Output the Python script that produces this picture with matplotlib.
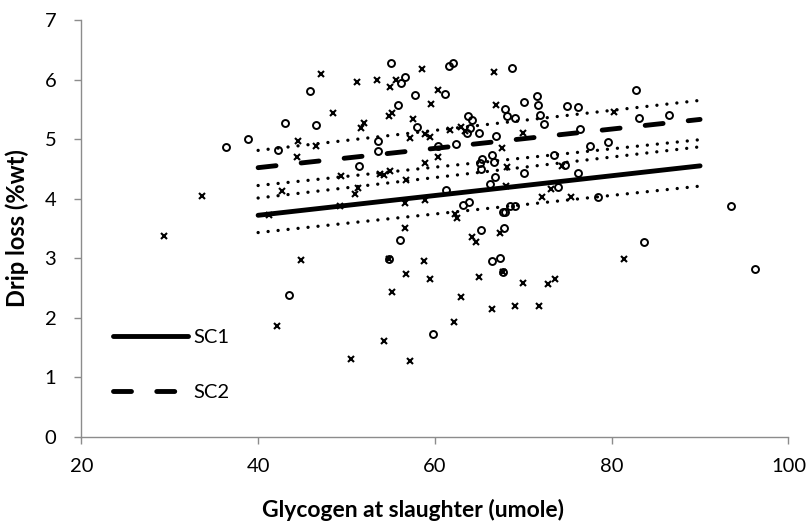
import matplotlib
matplotlib.use("Agg")
import matplotlib.pyplot as plt

plt.rcParams["font.family"] = ["Lato", "DejaVu Sans"]

# scatter points
cross_x = [47.1, 44.5, 44.4, 46.5, 42.7, 33.6, 41.2, 29.4, 44.85, 42.1,
           56.6, 56.65, 54.85, 58.8, 56.7, 59.45, 55.1, 62.9, 62.2, 54.2,
           50.5, 57.2, 62.3, 62.5, 64.2, 64.7, 67.4, 67.7, 65.0, 70.0,
           72.8, 66.5, 69.1, 71.8, 81.4, 73.55, 80.3, 74.4, 73.1, 72.15,
           75.4, 51.2, 53.4, 55.6, 58.5, 66.7, 54.9, 60.4, 48.5, 59.6,
           54.8, 55.2, 51.6, 52.0, 57.55, 61.7, 62.9, 63.4, 66.9, 70.0,
           67.55, 58.9, 59.45, 57.2, 60.3, 68.2, 68.0, 58.9, 53.8, 54.2,
           54.9, 49.4, 56.7, 51.3, 51.0, 58.9, 49.3]
cross_y = [6.09, 4.97, 4.70, 4.88, 4.12, 4.05, 3.72, 3.37, 2.97, 1.86,
           3.92, 3.51, 2.98, 2.95, 2.74, 2.65, 2.43, 2.35, 1.92, 1.61,
           1.31, 1.28, 3.75, 3.67, 3.35, 3.27, 3.42, 2.77, 2.68, 2.59,
           2.56, 2.15, 2.19, 2.20, 2.98, 2.65, 5.45, 4.55, 4.16, 4.02,
           4.02, 5.96, 6.00, 6.00, 6.18, 6.12, 5.87, 5.82, 5.44, 5.59,
           5.39, 5.44, 5.19, 5.27, 5.33, 5.15, 5.20, 5.13, 5.57, 5.11,
           4.85, 5.09, 5.04, 5.02, 4.70, 4.53, 4.22, 4.59, 4.42, 4.40,
           4.46, 4.38, 4.31, 4.17, 4.07, 3.97, 3.88]

circle_x = [45.9, 43.0, 46.6, 38.9, 36.4, 42.2, 43.5, 56.0, 54.85, 59.8,
            63.2, 63.9, 65.2, 67.8, 67.7, 67.9, 68.5, 69.1, 66.5, 67.4,
            67.7, 93.5, 83.7, 96.2, 82.75, 71.5, 71.7, 71.9, 72.3, 74.9,
            76.2, 83.1, 86.45, 76.45, 77.5, 79.6, 73.5, 74.75, 76.2, 73.9,
            78.4, 55.0, 61.6, 62.0, 68.7, 56.65, 56.2, 61.1, 57.8, 55.8,
            58.0, 63.7, 64.2, 64.0, 63.6, 65.0, 67.9, 68.2, 69.1, 70.1,
            66.9, 53.6, 60.4, 62.4, 53.6, 51.45, 65.3, 65.1, 66.5, 66.7,
            65.2, 70.1, 66.8, 66.2, 61.2]
circle_y = [5.81, 5.27, 5.23, 5.00, 4.86, 4.82, 2.38, 3.30, 2.98, 1.72,
            3.89, 3.94, 3.48, 3.50, 3.78, 3.78, 3.87, 3.87, 2.95, 3.00,
            2.77, 3.87, 3.27, 2.82, 5.83, 5.72, 5.57, 5.41, 5.26, 5.56,
            5.54, 5.35, 5.40, 5.17, 4.88, 4.95, 4.74, 4.56, 4.43, 4.20,
            4.02, 6.27, 6.23, 6.27, 6.19, 6.04, 5.94, 5.75, 5.74, 5.58,
            5.21, 5.39, 5.32, 5.19, 5.10, 5.10, 5.51, 5.39, 5.35, 5.62,
            5.06, 4.97, 4.89, 4.92, 4.80, 4.55, 4.66, 4.59, 4.73, 4.61,
            4.49, 4.43, 4.36, 4.25, 4.14]

# fitted lines and their bands (start at 40, end at 90)
line_x = [40, 90]
sc1 = [3.72, 4.55]
sc1_low = [3.43, 4.21]
sc1_high = [4.01, 4.87]
sc2 = [4.52, 5.33]
sc2_low = [4.22, 4.99]
sc2_high = [4.81, 5.65]

fig = plt.figure(figsize=(8.11, 5.26), dpi=100)
ax = fig.add_axes([0.1003, 0.1696, 0.8719, 0.7924])

ax.plot(cross_x, cross_y, linestyle="none", marker="x", markersize=4.6,
        markeredgewidth=1.5, color="black")
ax.plot(circle_x, circle_y, linestyle="none", marker="o", markersize=5,
        markeredgewidth=1.4, markerfacecolor="none", markeredgecolor="black")

dots = (0, (0.01, 3.0))
for band in (sc1_low, sc1_high, sc2_low, sc2_high):
    ax.plot(line_x, band, color="black", linewidth=2.4, linestyle=dots,
            dash_capstyle="round")

ax.plot(line_x, sc1, color="black", linewidth=3.5, solid_capstyle="round",
        label="SC1")
ax.plot(line_x, sc2, color="black", linewidth=3.5, linestyle=(0, (3.7, 5.2)),
        dash_capstyle="round", label="SC2")

ax.set_xlim(20, 100)
ax.set_ylim(0, 7)
ax.set_xticks([20, 40, 60, 80, 100])
ax.set_yticks(range(0, 8))

for side in ("top", "right"):
    ax.spines[side].set_visible(False)
for side in ("left", "bottom"):
    ax.spines[side].set_color("#8c8c8c")
    ax.spines[side].set_linewidth(1.0)
ax.tick_params(axis="both", direction="out", length=5, width=1.0,
               color="#8c8c8c", labelsize=14.5, labelcolor="black")
ax.tick_params(axis="x", pad=10)
ax.tick_params(axis="y", pad=13)

ax.set_xlabel("Glycogen at slaughter (umole)", fontsize=16.5, fontweight="bold")
ax.xaxis.set_label_coords(0.469, -0.148)
ax.set_ylabel("Drip loss (%wt)", fontsize=17, fontweight="bold", labelpad=11)

ax.legend(loc="lower left", bbox_to_anchor=(0.045, 0.085), frameon=False,
          fontsize=14.5, handlelength=3.7, handletextpad=0.3, labelspacing=1.9,
          borderpad=0, borderaxespad=0)

fig.savefig("out.png", dpi=100)
